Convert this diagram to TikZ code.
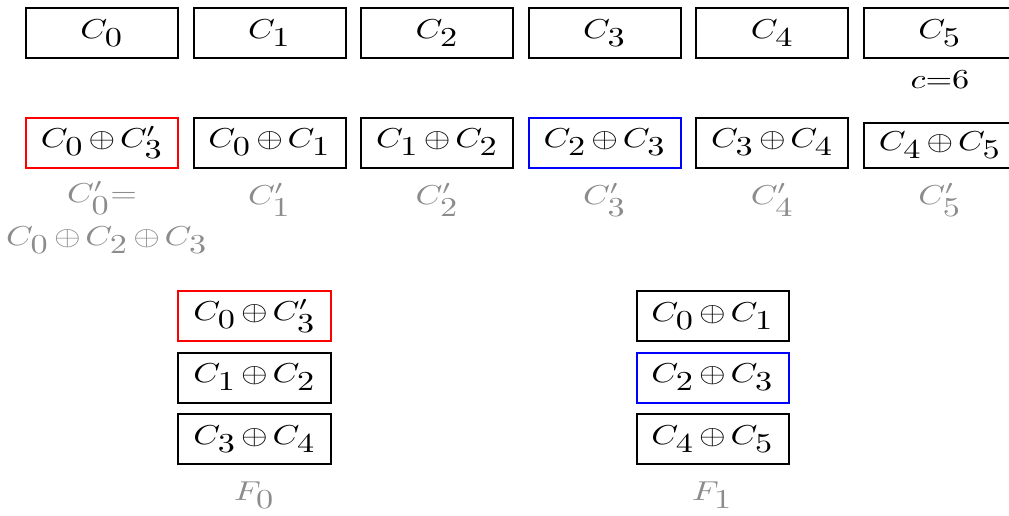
\documentclass[tikz,border=0pt]{standalone}
\usepackage{graphicx}
\newcommand{\Cx}[1]{C_{\textstyle #1}}
\newcommand{\Cpr}[1]{C'_{\textstyle #1}}
\newcommand{\sx}[1]{\scalebox{1.25}[1]{\medmuskip=2.5mu$#1$}}
\begin{document}
\begin{tikzpicture}[
		x={(0.4pt,0pt)},
		y={(0pt,-0.4pt)},
		font=\fontsize{11}{13}\selectfont,
		cell/.style={draw,thick,minimum width=60.8pt,minimum height=20pt,inner sep=0pt},
		note/.style={text=black!45},
	]
		\useasboundingbox (0,0) rectangle (1009,515);
		
		\foreach \n in {0,...,5}{
			\node[cell] (c\n) at ({102+167.6*\n},33) {\sx{\Cx{\n}}};
		}
		\node (cnt) at (940,80) {\sx{c{=}6}};
		
		\foreach \n/\h/\c/\t in {0/20pt/red/{\Cx0\oplus\Cpr3}, 1/20pt/black/{\Cx0\oplus\Cx1}, 2/20pt/black/{\Cx1\oplus\Cx2}, 3/20pt/blue/{\Cx2\oplus\Cx3}, 4/20pt/black/{\Cx3\oplus\Cx4}}{
			\node[cell,draw=\c,minimum height=\h] (x\n) at ({102+167.6*\n},142.5) {\sx{\t}};
		}
		\node[cell,minimum height=18pt] (x5) at (940,145.5) {\sx{\Cx4\oplus\Cx5}};
		
		\node[note] (p0) at (102,198) {\sx{\Cpr0{=}}};
		\node[note] (p0b) at (107,240) {\sx{\Cx0\oplus\Cx2\oplus\Cx3}};
		\foreach \n in {1,...,5}{
			\node[note] (p\n) at ({102+167.6*\n},200) {\sx{\Cpr{\n}}};
		}
		
		\foreach \n/\y/\c/\t in {0/316/red/{\Cx0\oplus\Cpr3}, 1/377.5/black/{\Cx1\oplus\Cx2}, 2/439/black/{\Cx3\oplus\Cx4}}{
			\node[cell,draw=\c] (f0\n) at (254.5,\y) {\sx{\t}};
		}
		\foreach \n/\y/\c/\t in {0/316/black/{\Cx0\oplus\Cx1}, 1/377.5/blue/{\Cx2\oplus\Cx3}, 2/439/black/{\Cx4\oplus\Cx5}}{
			\node[cell,draw=\c] (f1\n) at (712.5,\y) {\sx{\t}};
		}
		\node[note] (F0) at (254.5,495) {\sx{F_{\textstyle 0}}};
		\node[note] (F1) at (712.5,495) {\sx{F_{\textstyle 1}}};
	\end{tikzpicture}
\end{document}
